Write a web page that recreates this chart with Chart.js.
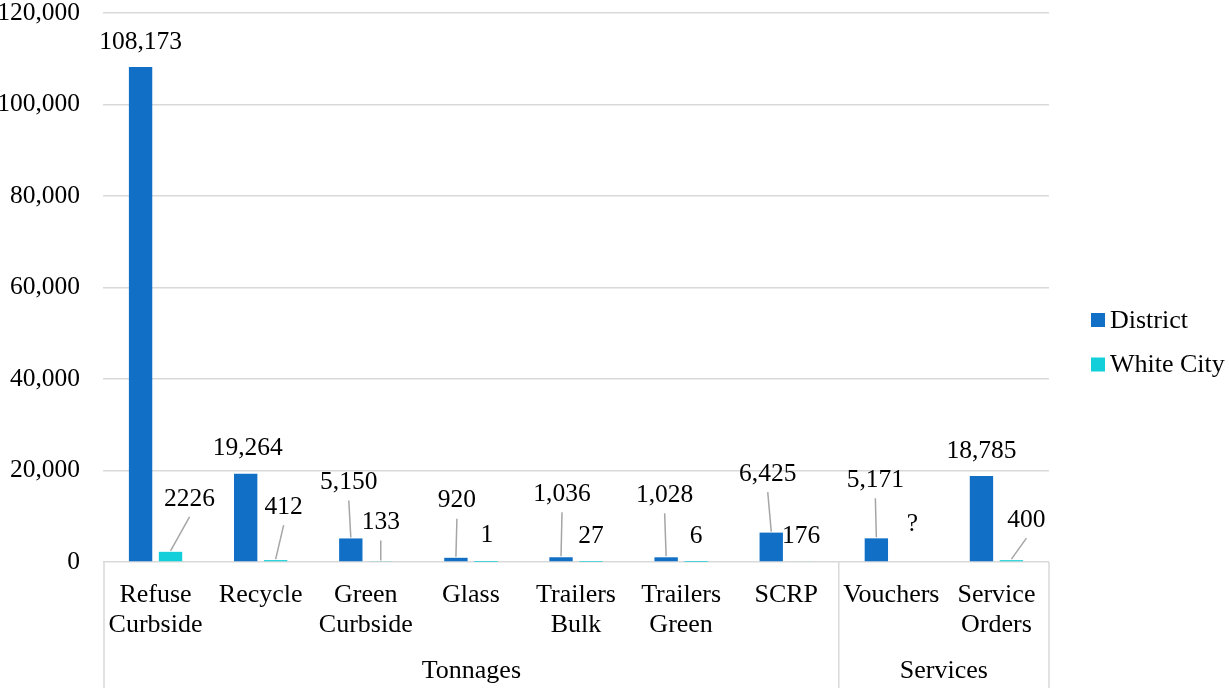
<!DOCTYPE html>
<html><head><meta charset="utf-8">
<script src="https://cdn.jsdelivr.net/npm/chart.js@4"></script>
<style>html,body{margin:0;padding:0;background:#fff;}#wrap{width:1229px;height:688px;}</style>
</head><body><div id="wrap"><canvas id="c" width="1229" height="688"></canvas></div>
<script>
// ---- data ----
const categories = [["Refuse","Curbside"],["Recycle"],["Green","Curbside"],["Glass"],["Trailers","Bulk"],["Trailers","Green"],["SCRP"],["Vouchers"],["Service","Orders"]];
const groupNames = ["Tonnages","Services"];
const groupStart = [0,7];
const groupEnd = [6,8];
const seriesNames = ["District","White City"];
const district = [108173,19264,5150,920,1036,1028,6425,5171,18785];
const whiteCity = [2226,412,133,1,27,6,176,null,400];
const yMin = 0, yMax = 120000, yStep = 20000;

// ---- styles / label layout (not data) ----
const FONT = '"Liberation Serif","Times New Roman",serif';
const colors = ["#1170C6","#13CFD9"];
const gridColor = "#d9d9d9";
const leaderColor = "#a6a6a6";
// [dx, dy from bar top, leader?]
const labelLayout = [
  [[0,-25,false],[2,-26,false],[-2,-56,true],[1,-57,true],[1,-63,true],[-1.5,-62,true],[-3.5,-58.5,true],[-1,-58,true],[0,-25,false]],
  [[19,-53,true],[8,-53,true],[0,-39,true],[1,-27,false],[0,-26,false],[0,-26,false],[0,-25,false],[6,-38,false],[15,-40,true]]
];
function fmtDistrict(v){ return v.toLocaleString('en-US'); }
function fmtWhite(v){ return v === null ? "?" : String(v); }

const overlay = {
  id:'overlay',
  afterDatasetsDraw(chart){
    const ctx = chart.ctx, xs = chart.scales.x, ys = chart.scales.y;
    ctx.save();
    ctx.font = '25.5px ' + FONT;
    ctx.fillStyle = '#000';
    ctx.textAlign = 'center';
    ctx.textBaseline = 'middle';
    [0,1].forEach(ds=>{
      const meta = chart.getDatasetMeta(ds);
      const vals = ds===0 ? district : whiteCity;
      const off0 = meta.data[0].x - xs.getPixelForValue(0);
      vals.forEach((v,i)=>{
        const bx = xs.getPixelForValue(i) + off0;
        const by = v===null ? ys.getPixelForValue(0) : ys.getPixelForValue(v);
        const [dx,dy,lead] = labelLayout[ds][i];
        const lx = bx+dx, ly = by+dy;
        const txt = ds===0 ? fmtDistrict(v) : fmtWhite(v);
        ctx.fillText(txt, lx, ly);
        if(lead){
          ctx.strokeStyle = leaderColor; ctx.lineWidth = 1.5;
          ctx.beginPath(); ctx.moveTo(lx, ly+18); ctx.lineTo(bx, by-1); ctx.stroke();
        }
      });
    });
    ctx.restore();
  },
  afterDraw(chart){
    const ctx = chart.ctx, xs = chart.scales.x, area = chart.chartArea;
    const H = chart.height;
    const bound = i => i<=0 ? area.left+1 : (i>=categories.length ? area.right : (xs.getPixelForValue(i-1)+xs.getPixelForValue(i))/2);
    ctx.save();
    ctx.strokeStyle = gridColor; ctx.lineWidth = 1.5;
    const xsLines = [bound(0)];
    groupEnd.forEach(e=>xsLines.push(bound(e+1)));
    xsLines.forEach(x=>{ ctx.beginPath(); ctx.moveTo(x, area.bottom); ctx.lineTo(x, H); ctx.stroke(); });
    ctx.fillStyle = '#000'; ctx.textAlign='center'; ctx.textBaseline='alphabetic';
    ctx.font = '26px ' + FONT;
    categories.forEach((lines,i)=>{
      const x = xs.getPixelForValue(i);
      lines.forEach((t,k)=>ctx.fillText(t, x, area.bottom + 40 + k*30));
    });
    groupNames.forEach((g,j)=>{
      const x = (bound(groupStart[j]) + bound(groupEnd[j]+1))/2;
      ctx.fillText(g, x, area.bottom + 116);
    });
    ctx.textAlign='left'; ctx.textBaseline='middle';
    seriesNames.forEach((n,k)=>{
      const y = 320 + k*44.5;
      ctx.fillStyle = colors[k];
      ctx.fillRect(1091, y-7, 14, 14);
      ctx.fillStyle = '#000';
      ctx.fillText(n, 1110, y+1);
    });
    ctx.restore();
  }
};

new Chart(document.getElementById('c'), {
  type:'bar',
  data:{
    labels: categories.map(c=>c.join(' ')),
    datasets:[
      {label:seriesNames[0], data:district, backgroundColor:colors[0], categoryPercentage:0.57, barPercentage:0.78},
      {label:seriesNames[1], data:whiteCity, backgroundColor:colors[1], categoryPercentage:0.57, barPercentage:0.78}
    ]
  },
  options:{
    responsive:false, animation:false, devicePixelRatio:1,
    layout:{padding:{top:13,right:180,left:0,bottom:0}},
    plugins:{legend:{display:false}, tooltip:{enabled:false}},
    scales:{
      x:{
        ticks:{display:false},
        grid:{display:false},
        border:{display:false},
        afterFit(s){ s.height = 126; s.paddingTop = 0; s.paddingBottom = 0; s.paddingLeft = 0; s.paddingRight = 0; }
      },
      y:{
        min:yMin, max:yMax,
        ticks:{stepSize:yStep, padding:23, color:'#000',
          font:{family:FONT, size:25.5, lineHeight:1.0},
          callback:v=>v.toLocaleString('en-US')},
        grid:{color:gridColor, lineWidth:1.5, drawTicks:false},
        border:{display:false},
        afterFit(s){ s.width = 103; s.paddingTop = 0; s.paddingBottom = 0; }
      }
    }
  },
  plugins:[overlay]
});
</script></body></html>
